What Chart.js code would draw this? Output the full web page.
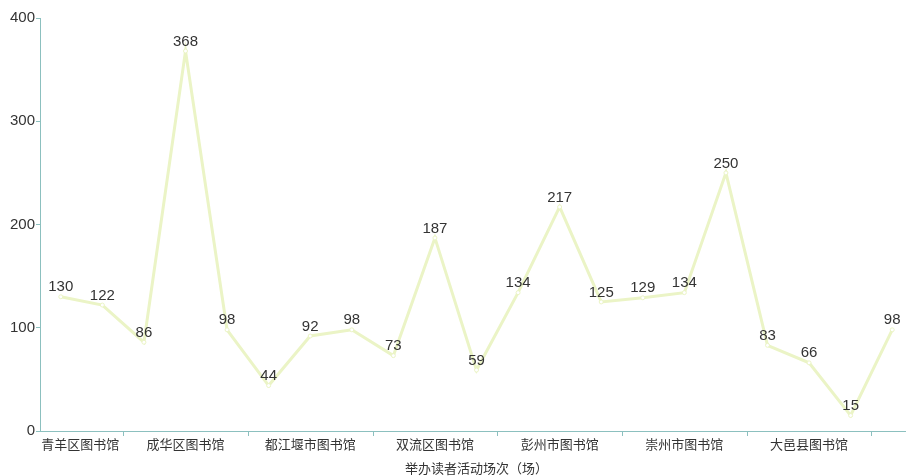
<!DOCTYPE html>
<html>
<head>
<meta charset="utf-8">
<script src="https://cdn.jsdelivr.net/npm/chart.js@4"></script>
<style>
html,body{margin:0;padding:0;background:#fff;overflow:hidden;}
#wrap{width:906px;height:476px;position:relative;overflow:hidden;}
</style>
</head>
<body>
<div id="wrap"><canvas id="c" width="918" height="476"></canvas></div>
<script>
const categories = ['青羊区图书馆','锦江区图书馆','金牛区图书馆','成华区图书馆','武侯区图书馆','龙泉驿区图书馆','都江堰市图书馆','青白江区图书馆','新都区图书馆','双流区图书馆','温江区图书馆','郫都区图书馆','彭州市图书馆','新津区图书馆','简阳市图书馆','崇州市图书馆','邛崃市图书馆','金堂县图书馆','大邑县图书馆','蒲江县图书馆','成都图书馆'];
const activityCounts = [130,122,86,368,98,44,92,98,73,187,59,134,217,125,129,134,250,83,66,15,98];
const yTicks = [0,100,200,300,400];
const xTitle = '举办读者活动场次（场）';

const axisColor = '#8cc0bf';
const lineColor = '#ebf4c6';
const textColor = '#333333';
const numFont = "'Liberation Sans', 'Noto Sans CJK SC', sans-serif";
const cjkFont = "'Noto Sans CJK SC', 'Liberation Sans', sans-serif";

const labelPlugin = {
  id: 'valueLabels',
  afterDatasetsDraw(chart) {
    const ctx = chart.ctx;
    const meta = chart.getDatasetMeta(0);
    ctx.save();
    ctx.font = '15px ' + numFont;
    ctx.fillStyle = textColor;
    ctx.textAlign = 'center';
    ctx.textBaseline = 'bottom';
    meta.data.forEach((pt, i) => {
      ctx.fillText(String(activityCounts[i]), pt.x, pt.y - 2);
    });
    ctx.restore();
  }
};

const xTickPlugin = {
  id: 'xTickMarks',
  afterDraw(chart) {
    const ctx = chart.ctx;
    const xs = chart.scales.x;
    const y0 = xs.top;
    ctx.save();
    ctx.strokeStyle = axisColor;
    ctx.lineWidth = 1;
    for (let i = 1.5; i < categories.length; i += 3) {
      const x = Math.round(xs.getPixelForValue(i)) + 0.5;
      ctx.beginPath();
      ctx.moveTo(x, y0);
      ctx.lineTo(x, y0 + 5);
      ctx.stroke();
    }
    ctx.restore();
  }
};

new Chart(document.getElementById('c'), {
  type: 'line',
  data: {
    labels: categories,
    datasets: [{
      data: activityCounts,
      borderColor: lineColor,
      borderWidth: 3,
      pointRadius: 2,
      pointBackgroundColor: '#ffffff',
      pointBorderColor: lineColor,
      pointBorderWidth: 1,
      tension: 0,
      fill: false
    }]
  },
  options: {
    responsive: false,
    animation: false,
    devicePixelRatio: 1,
    layout: { padding: { top: 18, right: 0, left: 0, bottom: 0 } },
    plugins: { legend: { display: false }, tooltip: { enabled: false } },
    scales: {
      x: {
        type: 'category',
        offset: true,
        grid: { display: false, tickLength: 0 },
        border: { display: true, color: axisColor, width: 1 },
        ticks: {
          autoSkip: false,
          maxRotation: 0,
          minRotation: 0,
          padding: 5,
          color: textColor,
          font: { family: cjkFont, size: 13 },
          callback: function(v, i) {
            if (i % 3 !== 0) return '';
            return i === 0 ? '\u3000\u3000\u3000' + categories[i] : categories[i];
          }
        },
        title: {
          display: true,
          text: xTitle,
          color: textColor,
          font: { family: cjkFont, size: 13 },
          padding: { top: 4, bottom: 0 }
        },
        afterFit(scale) { scale.height = 45; scale.paddingLeft = 0; scale.paddingRight = 0; }
      },
      y: {
        min: 0,
        max: 400,
        afterBuildTicks(scale) { scale.ticks = yTicks.map(v => ({ value: v })); },
        grid: { drawOnChartArea: false, color: axisColor, tickLength: 4 },
        border: { display: true, color: axisColor, width: 1 },
        ticks: {
          color: textColor,
          padding: 1,
          font: { family: numFont, size: 15 }
        },
        afterFit(scale) { scale.width = 40; }
      }
    }
  },
  plugins: [labelPlugin, xTickPlugin]
});
</script>
</body>
</html>
